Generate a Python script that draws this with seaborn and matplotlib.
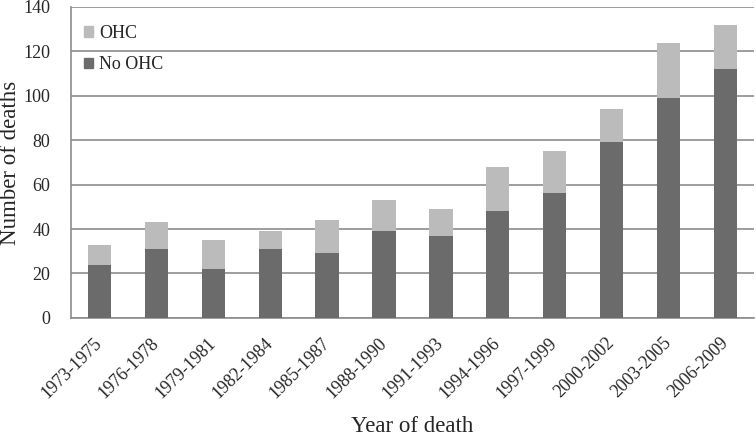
import matplotlib
matplotlib.use("Agg")
import matplotlib.pyplot as plt
import matplotlib.transforms as mtransforms
import seaborn as sns
import numpy as np
import pandas as pd
from matplotlib.patches import Patch

periods = ["1973-1975", "1976-1978", "1979-1981", "1982-1984", "1985-1987", "1988-1990",
           "1991-1993", "1994-1996", "1997-1999", "2000-2002", "2003-2005", "2006-2009"]
no_ohc = [24, 31, 22, 31, 29, 39, 37, 48, 56, 79, 99, 112]
ohc = [9, 12, 13, 8, 15, 14, 12, 20, 19, 15, 25, 20]
yticks = [0, 20, 40, 60, 80, 100, 120, 140]

sns.set_style("white")
plt.rcParams['font.family'] = ['Liberation Serif', 'DejaVu Serif']

df = pd.DataFrame({"period": periods, "no_ohc": no_ohc,
                   "total": np.array(no_ohc) + np.array(ohc)})

fig = plt.figure(figsize=(7.56, 4.36), dpi=100)
ax = fig.add_axes([0.094, 0.271, 0.903, 0.713])

light = "#BBBBBB"
dark = "#6B6B6B"
sns.barplot(data=df, x="period", y="total", color=light, width=0.41, ax=ax,
            saturation=1, zorder=3, linewidth=0, edgecolor="none")
sns.barplot(data=df, x="period", y="no_ohc", color=dark, width=0.41, ax=ax,
            saturation=1, zorder=3, linewidth=0, edgecolor="none")

ax.set_ylim(0, 140)
ax.set_xlim(-0.5, len(periods) - 0.5)
ax.set_yticks(yticks)
ax.yaxis.grid(True, color="#8C8C8C", linewidth=1.2, zorder=0)
ax.set_axisbelow(True)
for s in ["top", "right"]:
    ax.spines[s].set_visible(False)
ax.spines["left"].set_color("#8C8C8C")
ax.spines["bottom"].set_color("#8C8C8C")
ax.spines["left"].set_linewidth(1.2)
ax.spines["bottom"].set_linewidth(1.2)

ax.set_xticks(np.arange(len(periods)))
ax.set_xticklabels(periods, rotation=45, ha="right", rotation_mode="anchor", fontsize=13)
ax.tick_params(axis="x", which="major", length=0, pad=12)
ax.set_xticks(np.arange(-0.5, len(periods)), minor=True)
ax.tick_params(axis="x", which="minor", length=5, color="#8C8C8C", width=1.2, direction="out")
ax.tick_params(axis="y", length=6, color="#8C8C8C", width=1.2, direction="out", labelsize=13)
ax.yaxis.set_tick_params(pad=9)
shift = mtransforms.ScaledTranslation(-6 / 100, 0, fig.dpi_scale_trans)
for lab in ax.get_xticklabels():
    lab.set_transform(lab.get_transform() + shift)

ax.set_xlabel("Year of death", fontsize=16.5)
ax.set_ylabel("Number of deaths", fontsize=16.5)
ax.xaxis.set_label_coords(0.5, -0.315)
ax.yaxis.set_label_coords(-0.074, 0.5)

handles = [Patch(color=light, label="OHC"), Patch(color=dark, label="No OHC")]
ax.legend(handles=handles, loc="upper left", bbox_to_anchor=(-0.007, 1.0), frameon=False,
          fontsize=13, handlelength=0.5, handleheight=0.5, handletextpad=0.3,
          labelspacing=0.8, borderaxespad=0.6)

fig.savefig("out.png", dpi=100)
